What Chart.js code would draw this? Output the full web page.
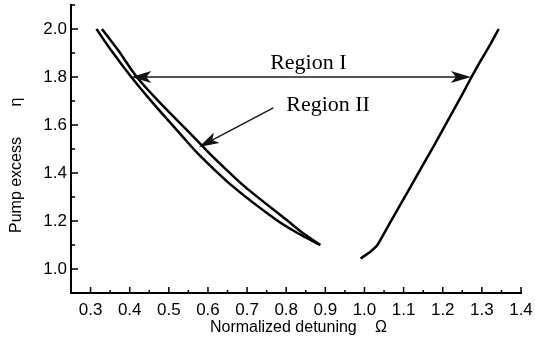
<!DOCTYPE html>
<html>
<head>
<meta charset="utf-8">
<script src="https://cdn.jsdelivr.net/npm/chart.js@4"></script>
<style>
  html, body { margin: 0; padding: 0; background: #fff; }
  #wrap { width: 535px; height: 349px; position: relative; }
</style>
</head>
<body>
<div id="wrap"><canvas id="c"></canvas></div>
<script>
// Boundary curves: normalized detuning (Omega) vs pump excess (eta)
const outerOmega = [0.315, 0.353, 0.404, 0.460, 0.533, 0.575, 0.665, 0.776, 0.831, 0.887];
const outerEta   = [2.000, 1.910, 1.800, 1.690, 1.556, 1.480, 1.342, 1.203, 1.148, 1.100];

const innerOmega = [0.329, 0.371, 0.418, 0.479, 0.560, 0.605, 0.695, 0.802, 0.844, 0.887];
const innerEta   = [2.000, 1.910, 1.800, 1.690, 1.556, 1.480, 1.342, 1.203, 1.148, 1.100];

const rightOmega = [0.990, 1.015, 1.033, 1.054, 1.079, 1.114, 1.148, 1.178, 1.221, 1.250, 1.272, 1.297, 1.323, 1.343];
const rightEta   = [1.044, 1.072, 1.100, 1.160, 1.232, 1.332, 1.430, 1.515, 1.642, 1.728, 1.795, 1.868, 1.940, 2.000];

// Axis ticks
const xTickValues  = [0.3, 0.4, 0.5, 0.6, 0.7, 0.8, 0.9, 1.0, 1.1, 1.2, 1.3, 1.4];
const xMinorValues = [0.35, 0.45, 0.55, 0.65, 0.75, 0.85, 0.95, 1.05, 1.15, 1.25, 1.35];
const yTickValues  = [1.0, 1.2, 1.4, 1.6, 1.8, 2.0];
const yMinorValues = [1.1, 1.3, 1.5, 1.7, 1.9, 2.1];

// Region labels and their arrows (in data units)
const regionLabels = ['Region I', 'Region II'];
const regionLabelAt = [[0.759, 1.833], [0.800, 1.660]];
const regionOneArrow = [[0.404, 1.800], [1.272, 1.800]];
const regionTwoArrow = [[0.767, 1.671], [0.577, 1.508]];

const toPoints = (xs, ys) => xs.map((x, i) => ({ x: x, y: ys[i] }));

const SANS = "'Liberation Sans', Arial, sans-serif";
const SERIF = "'Liberation Serif', 'Times New Roman', serif";

function arrowHead(ctx, x1, y1, x2, y2, len, half) {
  const a = Math.atan2(y2 - y1, x2 - x1);
  const cos = Math.cos(a), sin = Math.sin(a);
  const bx = x2 - len * cos, by = y2 - len * sin;
  const nx = x2 - (len - 5) * cos, ny = y2 - (len - 5) * sin;
  ctx.beginPath();
  ctx.moveTo(x2, y2);
  ctx.lineTo(bx - half * sin, by + half * cos);
  ctx.lineTo(nx, ny);
  ctx.lineTo(bx + half * sin, by - half * cos);
  ctx.closePath();
  ctx.fill();
}

const decorations = {
  id: 'decorations',
  afterDatasetsDraw(chart) {
    const ctx = chart.ctx;
    const xs = chart.scales.x, ys = chart.scales.y;
    const area = chart.chartArea;
    ctx.save();
    ctx.strokeStyle = '#000';
    ctx.fillStyle = '#000';
    ctx.lineWidth = 1.5;

    // inward tick marks
    ctx.beginPath();
    xTickValues.forEach(v => { const p = xs.getPixelForValue(v); ctx.moveTo(p, area.bottom); ctx.lineTo(p, area.bottom - 6); });
    xMinorValues.forEach(v => { const p = xs.getPixelForValue(v); ctx.moveTo(p, area.bottom); ctx.lineTo(p, area.bottom - 3); });
    yTickValues.forEach(v => { const p = ys.getPixelForValue(v); ctx.moveTo(area.left, p); ctx.lineTo(area.left + 7, p); });
    yMinorValues.forEach(v => { const p = ys.getPixelForValue(v); ctx.moveTo(area.left, p); ctx.lineTo(area.left + 4, p); });
    ctx.stroke();

    // Region I double arrow
    const a1 = regionOneArrow.map(p => [xs.getPixelForValue(p[0]), ys.getPixelForValue(p[1])]);
    ctx.strokeStyle = '#1a1a1a';
    ctx.fillStyle = '#111';
    ctx.lineWidth = 1.5;
    ctx.beginPath();
    ctx.moveTo(a1[0][0] + 10, a1[0][1]);
    ctx.lineTo(a1[1][0] - 10, a1[1][1]);
    ctx.stroke();
    arrowHead(ctx, a1[1][0], a1[1][1], a1[0][0], a1[0][1], 20, 6);
    arrowHead(ctx, a1[0][0], a1[0][1], a1[1][0], a1[1][1], 20, 6);

    // Region II arrow
    const a2 = regionTwoArrow.map(p => [xs.getPixelForValue(p[0]), ys.getPixelForValue(p[1])]);
    ctx.beginPath();
    ctx.moveTo(a2[0][0], a2[0][1]);
    const ang = Math.atan2(a2[1][1] - a2[0][1], a2[1][0] - a2[0][0]);
    ctx.lineTo(a2[1][0] - 10 * Math.cos(ang), a2[1][1] - 10 * Math.sin(ang));
    ctx.stroke();
    arrowHead(ctx, a2[0][0], a2[0][1], a2[1][0], a2[1][1], 20, 6);

    // region labels
    ctx.fillStyle = '#000';
    ctx.font = '22px ' + SERIF;
    ctx.textAlign = 'left';
    ctx.textBaseline = 'alphabetic';
    regionLabels.forEach((t, i) => {
      ctx.fillText(t, xs.getPixelForValue(regionLabelAt[i][0]), ys.getPixelForValue(regionLabelAt[i][1]));
    });

    // axis titles
    ctx.font = '16px ' + SANS;
    ctx.textBaseline = 'middle';
    ctx.textAlign = 'left';
    ctx.fillText('Normalized detuning', 210, 328);
    ctx.fillText('\u03A9', 375, 328);

    ctx.translate(17, 0);
    ctx.rotate(-Math.PI / 2);
    ctx.textAlign = 'center';
    ctx.fillText('Pump excess', -185, 0);
    ctx.fillText('\u03B7', -102, 0);
    ctx.restore();
  }
};

const lineStyle = { borderColor: '#000', borderWidth: 2.5, pointRadius: 0, tension: 0.25, fill: false };

new Chart(document.getElementById('c'), {
  type: 'line',
  data: {
    datasets: [
      Object.assign({ label: 'outer', data: toPoints(outerOmega, outerEta) }, lineStyle),
      Object.assign({ label: 'inner', data: toPoints(innerOmega, innerEta) }, lineStyle),
      Object.assign({ label: 'right', data: toPoints(rightOmega, rightEta) }, lineStyle, { tension: 0.15 })
    ]
  },
  options: {
    responsive: true,
    maintainAspectRatio: false,
    animation: false,
    events: [],
    layout: { padding: { top: 5, right: 14, bottom: 0, left: 0 } },
    plugins: { legend: { display: false }, tooltip: { enabled: false } },
    scales: {
      x: {
        type: 'linear',
        min: 0.25, max: 1.4,
        afterBuildTicks: s => { s.ticks = xTickValues.map(v => ({ value: v })); },
        afterFit: s => { s.height = 56; s.paddingLeft = 0; s.paddingRight = 0; },
        grid: { display: false, drawTicks: false },
        border: { display: true, color: '#000', width: 2 },
        ticks: {
          color: '#000', padding: 7,
          font: { family: SANS, size: 17 },
          callback: v => Number(v).toFixed(1),
          autoSkip: false, maxRotation: 0
        }
      },
      y: {
        type: 'linear',
        min: 0.9, max: 2.1,
        afterBuildTicks: s => { s.ticks = yTickValues.map(v => ({ value: v })); },
        afterFit: s => { s.width = 71; s.paddingTop = 0; s.paddingBottom = 0; },
        grid: { display: false, drawTicks: false },
        border: { display: true, color: '#000', width: 2 },
        ticks: {
          color: '#000', padding: 4,
          font: { family: SANS, size: 17 },
          callback: v => Number(v).toFixed(1),
          autoSkip: false
        }
      }
    }
  },
  plugins: [decorations]
});
</script>
</body>
</html>
